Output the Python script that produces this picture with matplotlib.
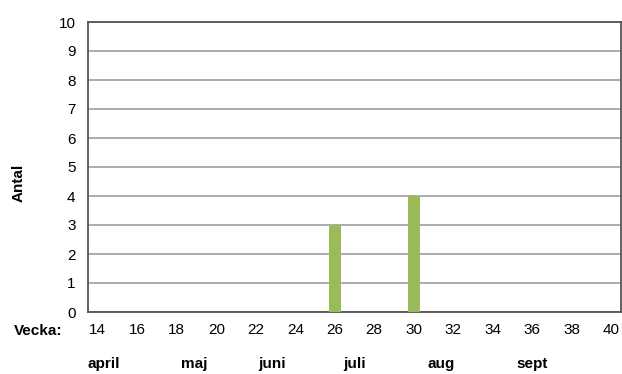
import matplotlib
matplotlib.use("Agg")
from matplotlib import pyplot as plt
from matplotlib import font_manager
from matplotlib.transforms import blended_transform_factory

names = {f.name for f in font_manager.fontManager.ttflist}
narrow = 'Liberation Sans Narrow' if 'Liberation Sans Narrow' in names else 'Liberation Sans'
plt.rcParams['font.family'] = [narrow, 'DejaVu Sans']

# weeks 14..40 and number of finds per week
weeks = list(range(14, 41))
counts = [0] * len(weeks)
counts[weeks.index(26)] = 3
counts[weeks.index(30)] = 4

week_ticks = list(range(14, 41, 2))
months = ['april', 'maj', 'juni', 'juli', 'aug', 'sept']
month_pos = [14.3, 18.9, 22.8, 27.0, 31.4, 36.0]

fig = plt.figure(figsize=(6.22, 3.74), dpi=100)
ax = fig.add_axes([88 / 622, 1 - 312 / 374, 533 / 622, 290 / 374])

ax.bar(weeks, counts, width=0.6, color='#9BBB59', zorder=3)

ax.set_xlim(13.5, 40.5)
ax.set_ylim(0, 10)
ax.set_yticks(range(0, 11))
ax.set_xticks(week_ticks)
ax.tick_params(axis='both', length=0, labelsize=11, colors='#000000')
ax.tick_params(axis='x', pad=8)
ax.tick_params(axis='y', pad=9)

ax.grid(axis='y', color='#A6A6A6', linewidth=1.3, zorder=0)
for s in ax.spines.values():
    s.set_color('#555555')
    s.set_linewidth(1.3)

fig.text(19 / 622, 1 - 183 / 374, 'Antal', fontsize=11, fontweight='bold',
         rotation=90, ha='center', va='center')
fig.text(38 / 622, 1 - 331 / 374, 'Vecka:', fontsize=11, fontweight='bold',
         ha='center', va='center')

trans = blended_transform_factory(ax.transData, ax.transAxes)
for name, pos in zip(months, month_pos):
    ax.text(pos, -0.18, name, transform=trans, fontsize=11, fontweight='bold',
            ha='center', va='center')

fig.savefig('out.png', dpi=100)
plt.close(fig)
